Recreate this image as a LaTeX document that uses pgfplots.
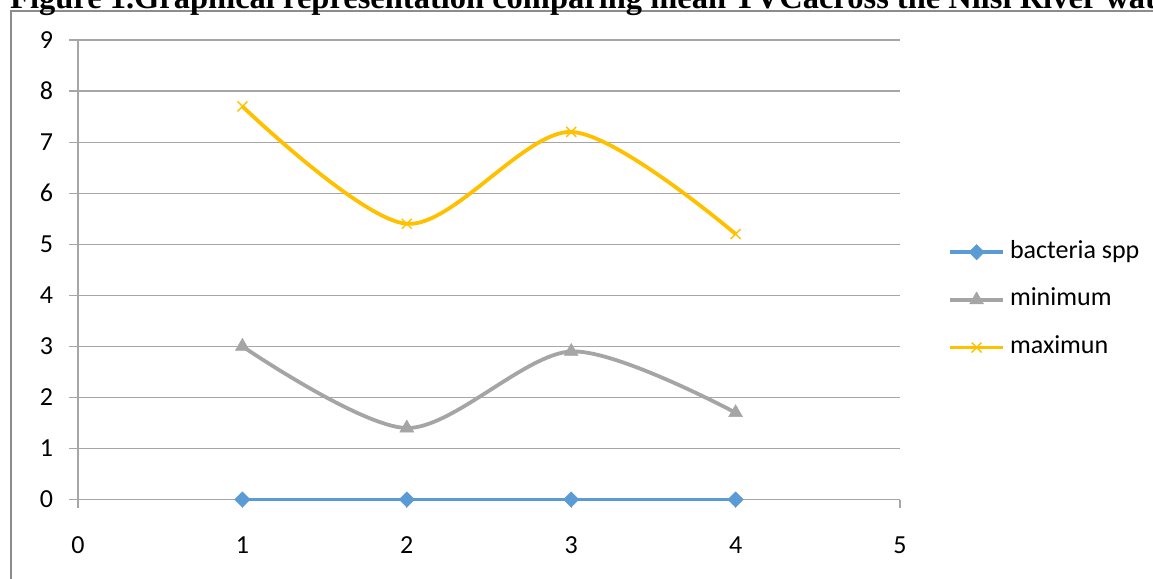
\documentclass[border=0pt]{standalone}
\usepackage{fontspec}
\setmainfont{Carlito}
\newfontfamily\titlefont{Liberation Serif}
\usepackage{pgfplots}
\pgfplotsset{compat=1.18}
\definecolor{serblue}{HTML}{5B9BD5}
\definecolor{sergray}{HTML}{A5A5A5}
\definecolor{seryellow}{HTML}{FFC000}
\definecolor{gridgray}{HTML}{A6A6A6}
\definecolor{framegray}{HTML}{8C8C8C}

\begin{document}
\begin{tikzpicture}[x=1pt,y=1pt]
\begin{axis}[
    scale only axis, width=822pt, height=459.5pt,
    xmin=0, xmax=5, ymin=0, ymax=9,
    xtick={0,...,5}, ytick={0,...,9},
    axis x line*=bottom, axis y line*=left,
    axis line style={gridgray, line width=1.2pt, -},
    tick style={gridgray, line width=1.2pt},
    major tick length=8.5pt, tick align=outside,
    ymajorgrids, grid style={gridgray, line width=1.2pt},
    ticklabel style={font=\fontsize{26}{31}\selectfont, black},
    /pgf/number format/assume math mode=true,
    xticklabel style={yshift=-25pt},
    yticklabel style={xshift=-13pt},
    clip=false,
    legend style={draw=none, fill=none, at={(axis cs:5.292,3.91)}, anchor=west,
      font=\fontsize{26}{31}\selectfont, inner sep=0pt, column sep=5pt, row sep=23.7pt,
      nodes={inner sep=0pt, text height=18pt, text depth=6pt}},
    legend cell align=left,
    legend image code/.code={\draw[mark repeat=2, mark phase=2, #1]
      plot coordinates {(0pt,0pt) (26.5pt,0pt) (53pt,0pt)};},
]
\addplot[serblue, line width=3.8pt, mark=square*, mark size=5.4pt,
  mark options={rotate=45, line width=0.5pt, fill=serblue}]
  coordinates {(1,0) (2,0) (3,0) (4,0)};
\addlegendentry{bacteria spp}

\addplot[sergray, line width=3.8pt, smooth, mark=triangle*, mark size=8pt,
  mark options={line width=0.5pt, fill=sergray}]
  coordinates {(1,3) (2,1.4) (3,2.9) (4,1.7)};
\addlegendentry{minimum}

\addplot[seryellow, line width=3.8pt, smooth, mark=x, mark size=7pt,
  mark options={line width=1.4pt}]
  coordinates {(1,7.7) (2,5.4) (3,7.2) (4,5.2)};
\addlegendentry{maximun}

\coordinate (O) at (axis cs:0,0);
\end{axis}
% page frame and clipped caption, placed relative to the axis origin
\begin{scope}[shift={(O)}]
\clip (-78,-78.5) rectangle (1075,499.5);
\draw[framegray, line width=2pt] (-67,-100) -- (-67,488) -- (1100,488);
\node[anchor=base west, inner sep=0pt, font=\titlefont\bfseries\fontsize{32.5}{38}\selectfont]
  at (-68,491) {Figure 1.Graphical representation comparing mean TVCacross the Nilsi River water};
\end{scope}
\pgfresetboundingbox
\path[use as bounding box] ([shift={(-78,-78.5)}]O) rectangle ([shift={(1075,499.5)}]O);
\end{tikzpicture}
\end{document}
